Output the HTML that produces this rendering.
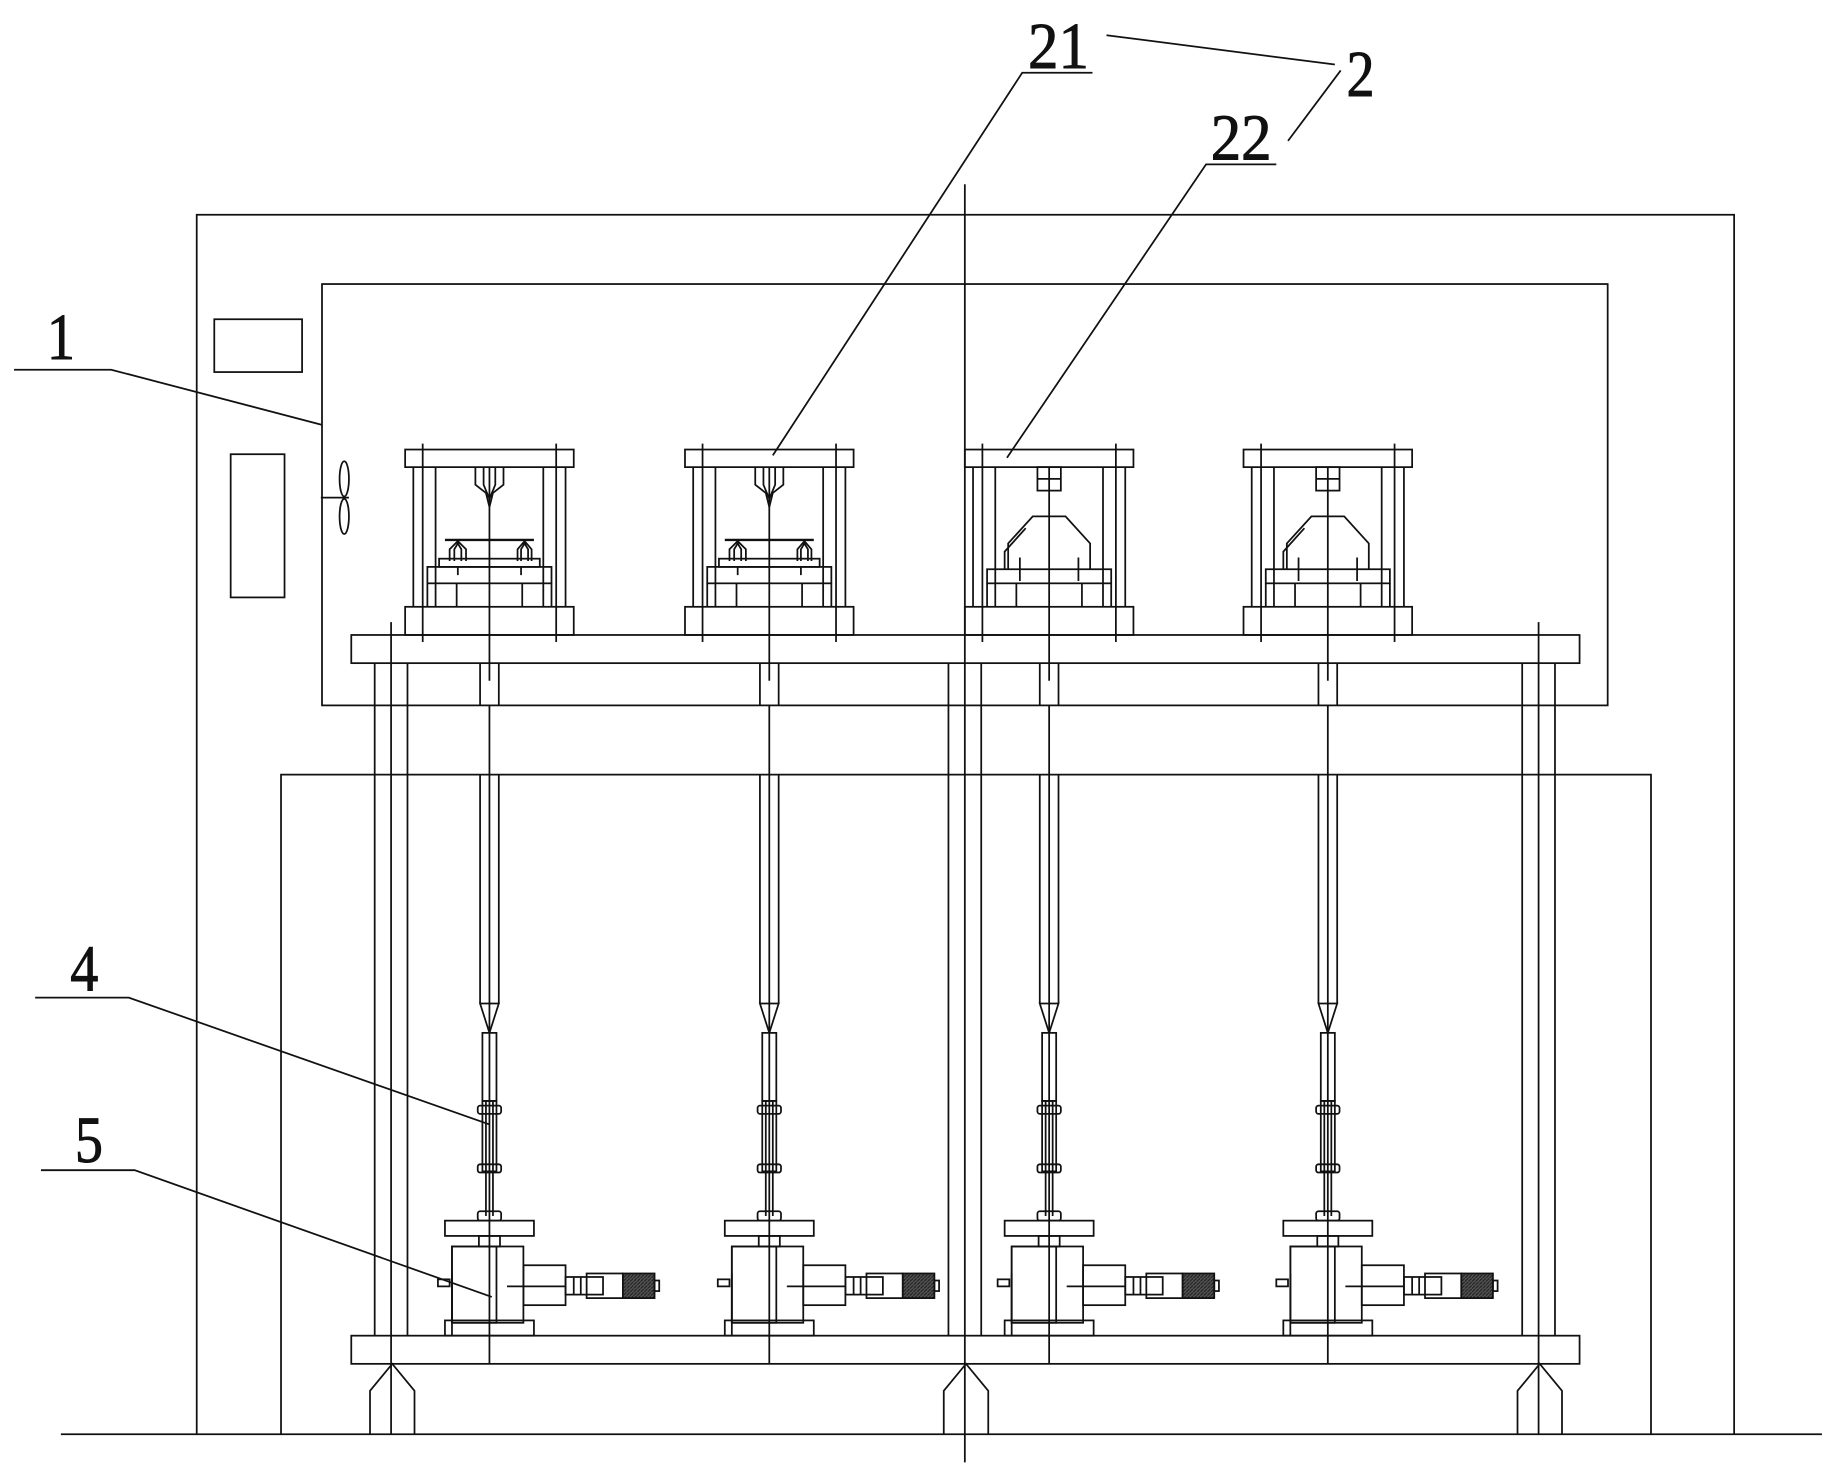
<!DOCTYPE html>
<html><head><style>html,body{margin:0;padding:0;background:#fff}svg{display:block}</style></head>
<body>
<svg width="1836" height="1473" viewBox="0 0 1568 1255" preserveAspectRatio="none" xmlns="http://www.w3.org/2000/svg">
<defs>
<pattern id="kn" width="3" height="3" patternUnits="userSpaceOnUse"><rect width="3" height="3" fill="#555"/><path d="M0 3L3 0" stroke="#222" stroke-width="1"/></pattern>
<g id="frame">
<rect x="-72" y="383" width="144" height="15"/>
<line x1="-57" y1="378" x2="-57" y2="547"/><line x1="57" y1="378" x2="57" y2="547"/>
<line x1="-65" y1="398" x2="-65" y2="517"/><line x1="-46" y1="398" x2="-46" y2="517"/>
<line x1="65" y1="398" x2="65" y2="517"/><line x1="46" y1="398" x2="46" y2="517"/>
<rect x="-72" y="517" width="144" height="24"/>
<line x1="0" y1="398" x2="0" y2="580"/>
<line x1="-8" y1="565" x2="-8" y2="601"/><line x1="8" y1="565" x2="8" y2="601"/>
<line x1="0" y1="601" x2="0" y2="1162"/>
<line x1="-8" y1="660" x2="-8" y2="855"/><line x1="8" y1="660" x2="8" y2="855"/>
<path d="M-8 855L8 855L0 880Z"/>
<rect x="-6" y="880" width="12" height="58"/>
<line x1="-3" y1="938" x2="-3" y2="1036"/><line x1="3" y1="938" x2="3" y2="1036"/>
<rect x="-6" y="938" width="12" height="60"/>
<rect x="-10" y="942" width="20" height="7" rx="2"/>
<rect x="-10" y="992" width="20" height="7" rx="2"/>
<rect x="-10" y="1032" width="20" height="8" rx="2"/>
<rect x="-38" y="1040" width="76" height="13"/>
<rect x="-9" y="1053" width="18" height="9"/>
<rect x="-32" y="1062" width="38" height="65"/>
<rect x="-32" y="1062" width="61" height="65"/>
<rect x="29" y="1078" width="36" height="34"/>
<rect x="65" y="1088" width="32" height="15"/>
<line x1="72" y1="1088" x2="72" y2="1103"/><line x1="78" y1="1088" x2="78" y2="1103"/>
<rect x="83" y="1085" width="31" height="21"/>
<rect x="114" y="1085" width="27" height="21" fill="url(#kn)"/>
<rect x="141" y="1091" width="4" height="9"/>
<line x1="15" y1="1096" x2="65" y2="1096"/>
<rect x="-44" y="1090" width="10" height="6"/>
<line x1="-32" y1="1085" x2="-32" y2="1138"/>
<rect x="-38" y="1125" width="76" height="13"/>
</g>
<g id="anvil21">
<path d="M-12 398V413L-3 420L0 432L3 420L12 413V398"/>
<path d="M-5 398V413L0 425L5 413V398"/>
<line x1="-38" y1="460" x2="38" y2="460" stroke-width="2"/>
<path d="M-30 478V468L-27 463L-24 468V478M27 478V468L30 463L33 468V478M-34 478V468L-27 461L-20 468V478M24 478V468L30 461L36 468V478"/>
<rect x="-43" y="476" width="86" height="7"/>
<rect x="-53" y="483" width="106" height="14"/>
<line x1="-27" y1="483" x2="-27" y2="490"/><line x1="27" y1="483" x2="27" y2="490"/>
<line x1="-28" y1="497" x2="-28" y2="517"/><line x1="28" y1="497" x2="28" y2="517"/>
<line x1="-53" y1="497" x2="-53" y2="517"/><line x1="53" y1="497" x2="53" y2="517"/>
</g>
<g id="anvil22">
<rect x="-10" y="398" width="20" height="20"/>
<line x1="-10" y1="408" x2="10" y2="408"/>
<path d="M-35 485V463L-14 440H14L35 463V485"/>
<path d="M-38 485V470L-20 450"/>
<path d="M-25 475V495M25 475V495"/>
<rect x="-53" y="485" width="106" height="12"/>
<line x1="-28" y1="497" x2="-28" y2="517"/><line x1="28" y1="497" x2="28" y2="517"/>
<line x1="-53" y1="497" x2="-53" y2="517"/><line x1="53" y1="497" x2="53" y2="517"/>
</g>
</defs>
<g fill="none" stroke="#111" stroke-width="1.5">
<line x1="52" y1="1222" x2="1556" y2="1222"/>
<polyline points="168,1222 168,183 1481,183 1481,1222"/>
<rect x="275" y="242" width="1098" height="359"/>
<polyline points="240,1222 240,660 1410,660 1410,1222"/>
<rect x="183" y="272" width="75" height="45"/>
<rect x="197" y="387" width="46" height="122"/>
<ellipse cx="294" cy="408" rx="4" ry="15"/><ellipse cx="294" cy="440" rx="4" ry="15"/><line x1="274" y1="424" x2="298" y2="424"/>
<rect x="300" y="541" width="1049" height="24"/>
<rect x="300" y="1138" width="1049" height="24"/>
<line x1="824" y1="157" x2="824" y2="1246"/>
<line x1="334" y1="530" x2="334" y2="1222"/>
<line x1="1314" y1="530" x2="1314" y2="1222"/>
<line x1="320" y1="565" x2="320" y2="1138"/><line x1="348" y1="565" x2="348" y2="1138"/>
<line x1="1300" y1="565" x2="1300" y2="1138"/><line x1="1328" y1="565" x2="1328" y2="1138"/>
<line x1="810" y1="565" x2="810" y2="1138"/><line x1="838" y1="565" x2="838" y2="1138"/>
<path d="M316 1222V1185L335 1162L354 1185V1222"/>
<path d="M806 1222V1185L825 1162L844 1185V1222"/>
<path d="M1296 1222V1185L1315 1162L1334 1185V1222"/>
<g transform="translate(418,0)"><use href="#frame"/><use href="#anvil21"/></g>
<g transform="translate(657,0)"><use href="#frame"/><use href="#anvil21"/></g>
<g transform="translate(896,0)"><use href="#frame"/><use href="#anvil22"/></g>
<g transform="translate(1134,0)"><use href="#frame"/><use href="#anvil22"/></g>
<polyline points="12,315 95,315 275,362"/>
<polyline points="933,62 873,62 660,388"/>
<polyline points="1090,140 1030,140 860,390"/>
<line x1="945" y1="30" x2="1140" y2="55"/>
<line x1="1145" y1="60" x2="1100" y2="120"/>
<polyline points="30,850 110,850 418,958"/>
<polyline points="35,997 115,997 420,1105"/>
</g>
<g font-family="'Liberation Serif',serif" font-size="56" fill="#111" stroke="#111" stroke-width="0.8">
<text x="40" y="306" textLength="24" lengthAdjust="spacingAndGlyphs">1</text>
<text x="878" y="58" textLength="52" lengthAdjust="spacingAndGlyphs">21</text>
<text x="1034" y="136" textLength="52" lengthAdjust="spacingAndGlyphs">22</text>
<text x="1150" y="82" textLength="24" lengthAdjust="spacingAndGlyphs">2</text>
<text x="60" y="844" textLength="24" lengthAdjust="spacingAndGlyphs">4</text>
<text x="64" y="990" textLength="24" lengthAdjust="spacingAndGlyphs">5</text>
</g>
</svg>
</body></html>
